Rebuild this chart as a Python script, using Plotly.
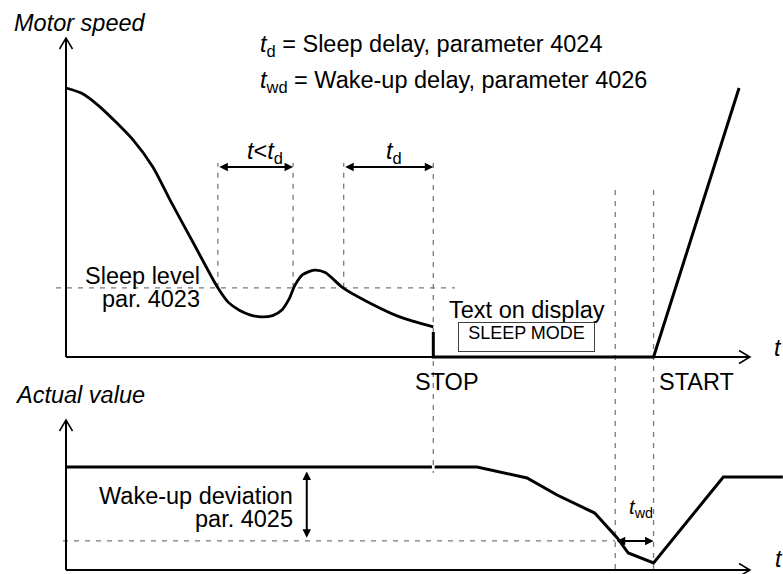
import plotly.graph_objects as go

# ---------------- geometry of the drawing (pixels) ----------------
W, H = 783, 574
ORIGIN_X = 66                      # pixel column of t = 0
PX_PER_T = 6.84                    # pixels per time unit
SPEED_ZERO_Y, SPEED_FULL_Y = 357, 88   # pixel rows of 0 % / 100 % motor speed
AV_ZERO_Y, AV_FULL_Y = 570, 467        # pixel rows of 0 % / 100 % actual value

# ---------------- data ----------------
# event instants (time units)
T_BELOW_1 = 22.2      # speed drops under sleep level
T_ABOVE = 33.2        # speed rises above sleep level again
T_BELOW_2 = 40.6      # speed drops under sleep level, sleep delay starts
T_STOP = 53.7         # sleep delay elapsed -> STOP
T_WAKE = 80.3         # actual value under wake-up level
T_START = 85.9        # wake-up delay elapsed -> START
T_RAMP_END = 98.4
T_AXIS_END = 100.0
T_DEV_ARROW = 35.2    # where the wake-up deviation is dimensioned

SLEEP_LEVEL = 25.7    # % motor speed
WAKE_LEVEL = 28.2     # % actual value
ARROW_LEVEL = 70.6    # % speed at which the delay arrows are drawn

# motor speed before the stop
SPEED_T = [0, 2.5, 5.0, 9.8, 12.7, 15.2, 18.7, 22.2, 23.7, 25.4, 27.0, 28.6, 30.2,
           31.6, 32.6, 33.5, 34.6, 36.3, 37.9, 40.5, 44.4, 48.8, 53.7]
SPEED_V = [100, 97.8, 92.9, 80.7, 70.6, 58.4, 42.0, 25.7, 20.4, 17.3, 15.6, 14.9, 15.4,
           17.6, 21.5, 26.8, 30.6, 32.3, 31.4, 25.7, 20.1, 14.9, 11.2]
# stop, sleep and restart ramp
SLEEP_T = [T_STOP, T_STOP, T_START, T_RAMP_END]
SLEEP_V = [9.3, 0, 0, 100]

# actual value
AV_T = [0, 53.5, None, 53.9, 60.1, 67.4, 71.8, 77.3, 80.6, 82.2, T_START, 96.1, 104.8]
AV_V = [100, 100, None, 100, 100, 89.3, 72.8, 55.3, 31.1, 16.5, 6.8, 90.3, 90.3]

# ---------------- scale helpers ----------------
S_K = (SPEED_ZERO_Y - SPEED_FULL_Y) / 100.0
A_K = (AV_ZERO_Y - AV_FULL_Y) / 100.0


def t_at(px):
    return (px - ORIGIN_X) / PX_PER_T


def speed_at(py):
    return (SPEED_ZERO_Y - py) / S_K


def av_at(py):
    return (AV_ZERO_Y - py) / A_K


def av_as_speed(v):
    """Express an actual-value level on the motor-speed scale."""
    return speed_at(AV_ZERO_Y - v * A_K)


def paper(px, py):
    return px / W, 1 - py / H


X_RANGE = [t_at(0), t_at(W)]
SPEED_RANGE = [speed_at(H), speed_at(0)]
AV_RANGE = [av_at(H), av_at(0)]

FONT = "Liberation Sans, Arial, sans-serif"
GRID = "#7a7a7a"
DASH = "5px,6px"

fig = go.Figure()

fig.add_trace(go.Scatter(x=SPEED_T, y=SPEED_V, mode="lines", yaxis="y",
                         line=dict(color="black", width=2.8, shape="spline", smoothing=0.7),
                         hoverinfo="skip"))
fig.add_trace(go.Scatter(x=SLEEP_T, y=SLEEP_V, mode="lines", yaxis="y",
                         line=dict(color="black", width=3), hoverinfo="skip"))
fig.add_trace(go.Scatter(x=AV_T, y=AV_V, mode="lines", yaxis="y2", connectgaps=False,
                         line=dict(color="black", width=3), hoverinfo="skip"))

shapes = []


def axis_pair(y0_px, ytop_px):
    """Time axis and value axis of one panel, with open arrow heads."""
    out = []
    x0 = ORIGIN_X
    xend = ORIGIN_X + T_AXIS_END * PX_PER_T
    ax, ay = paper(x0, y0_px)
    bx, by = paper(xend, y0_px)
    tx, ty = paper(x0, ytop_px)
    out.append(dict(type="line", xref="paper", yref="paper", x0=ax, y0=ay, x1=bx, y1=by,
                    line=dict(color="black", width=2)))
    out.append(dict(type="line", xref="paper", yref="paper", x0=ax, y0=ay, x1=tx, y1=ty,
                    line=dict(color="black", width=2)))
    p1 = paper(xend - 11, y0_px - 6.5)
    p2 = paper(xend, y0_px)
    p3 = paper(xend - 11, y0_px + 6.5)
    out.append(dict(type="path", xref="paper", yref="paper",
                    path=f"M{p1[0]},{p1[1]} L{p2[0]},{p2[1]} L{p3[0]},{p3[1]}",
                    line=dict(color="black", width=1.5)))
    q1 = paper(x0 - 6.5, ytop_px + 11)
    q2 = paper(x0, ytop_px)
    q3 = paper(x0 + 6.5, ytop_px + 11)
    out.append(dict(type="path", xref="paper", yref="paper",
                    path=f"M{q1[0]},{q1[1]} L{q2[0]},{q2[1]} L{q3[0]},{q3[1]}",
                    line=dict(color="black", width=1.5)))
    return out


shapes += axis_pair(SPEED_ZERO_Y, 38)
shapes += axis_pair(AV_ZERO_Y, 420)

dash_line = dict(color=GRID, width=1.3, dash=DASH)
# sleep level
shapes.append(dict(type="line", xref="x", yref="y", x0=t_at(56), x1=t_at(455),
                   y0=SLEEP_LEVEL, y1=SLEEP_LEVEL, line=dash_line, layer="below"))
# wake-up level
shapes.append(dict(type="line", xref="x", yref="y2", x0=t_at(63), x1=T_WAKE,
                   y0=WAKE_LEVEL, y1=WAKE_LEVEL, line=dash_line, layer="below"))
# delay markers
for t in (T_BELOW_1, T_ABOVE, T_BELOW_2):
    shapes.append(dict(type="line", xref="x", yref="y", x0=t, x1=t,
                       y0=SLEEP_LEVEL, y1=speed_at(163), line=dash_line, layer="below"))
shapes.append(dict(type="line", xref="x", yref="y", x0=T_STOP, x1=T_STOP,
                   y0=speed_at(163), y1=av_as_speed(94.2), line=dash_line, layer="below"))
for t in (T_WAKE, T_START):
    shapes.append(dict(type="line", xref="x", yref="y", x0=t, x1=t,
                       y0=speed_at(190), y1=speed_at(H), line=dash_line, layer="below"))

annotations = []


def dim_arrow(x0, y0, x1, y1, yref):
    annotations.append(dict(x=x1, y=y1, ax=x0, ay=y0, xref="x", yref=yref,
                            axref="x", ayref=yref, text="", showarrow=True,
                            arrowside="end+start", arrowhead=2, startarrowhead=2,
                            arrowsize=0.85, startarrowsize=0.85, arrowwidth=2,
                            arrowcolor="black", standoff=0, startstandoff=0))


dim_arrow(T_BELOW_1, ARROW_LEVEL, T_ABOVE, ARROW_LEVEL, "y")
dim_arrow(T_BELOW_2, ARROW_LEVEL, T_STOP, ARROW_LEVEL, "y")
dim_arrow(T_DEV_ARROW, 97, T_DEV_ARROW, WAKE_LEVEL + 3, "y2")
dim_arrow(T_WAKE, WAKE_LEVEL, T_START, WAKE_LEVEL, "y2")


def label(text, px, py, anchor="left", size=23.5):
    x, y = paper(px, py)
    annotations.append(dict(x=x, y=y, xref="paper", yref="paper", text=text,
                            showarrow=False, xanchor=anchor, yanchor="middle",
                            font=dict(family=FONT, size=size, color="black")))


label("<i>Motor speed</i>", 12, 23.5)
label("<i>t</i><sub>d</sub> = Sleep delay, parameter 4024", 258, 45.5)
label("<i>t</i><sub>wd</sub> = Wake-up delay, parameter 4026", 258, 81.5)
label("<i>t</i>&lt;<i>t</i><sub>d</sub>", 265, 153, "center")
label("<i>t</i><sub>d</sub>", 394, 153, "center")
label("Sleep level", 202, 275.5, "right")
label("par. 4023", 202, 298.5, "right")
label("Text on display", 526.5, 309.5, "center")
label("STOP", 447, 381.5, "center")
label("START", 696, 381.5, "center")
label("<i>t</i>", 778, 348, "center")
label("<i>Actual value</i>", 13, 395)
label("Wake-up deviation", 295, 495.5, "right")
label("par. 4025", 295, 519, "right")
label("<i>t</i><sub>wd</sub>", 641, 508, "center", size=20.5)
label("<i>t</i>", 779, 559, "center")

bx, by = paper(526.5, 322)
annotations.append(dict(x=bx, y=by, xref="paper", yref="paper", text="SLEEP MODE",
                        showarrow=False, xanchor="center", yanchor="top",
                        width=135, height=28, valign="top", align="center",
                        bordercolor="#404040", borderwidth=1, borderpad=0,
                        font=dict(family=FONT, size=18, color="black")))

fig.update_layout(
    width=W, height=H,
    margin=dict(l=0, r=0, t=0, b=0),
    paper_bgcolor="white", plot_bgcolor="white",
    showlegend=False,
    xaxis=dict(range=X_RANGE, visible=False, fixedrange=True),
    yaxis=dict(range=SPEED_RANGE, visible=False, fixedrange=True),
    yaxis2=dict(range=AV_RANGE, visible=False, overlaying="y", fixedrange=True),
    shapes=shapes,
    annotations=annotations,
)

fig.write_html("out.html")
